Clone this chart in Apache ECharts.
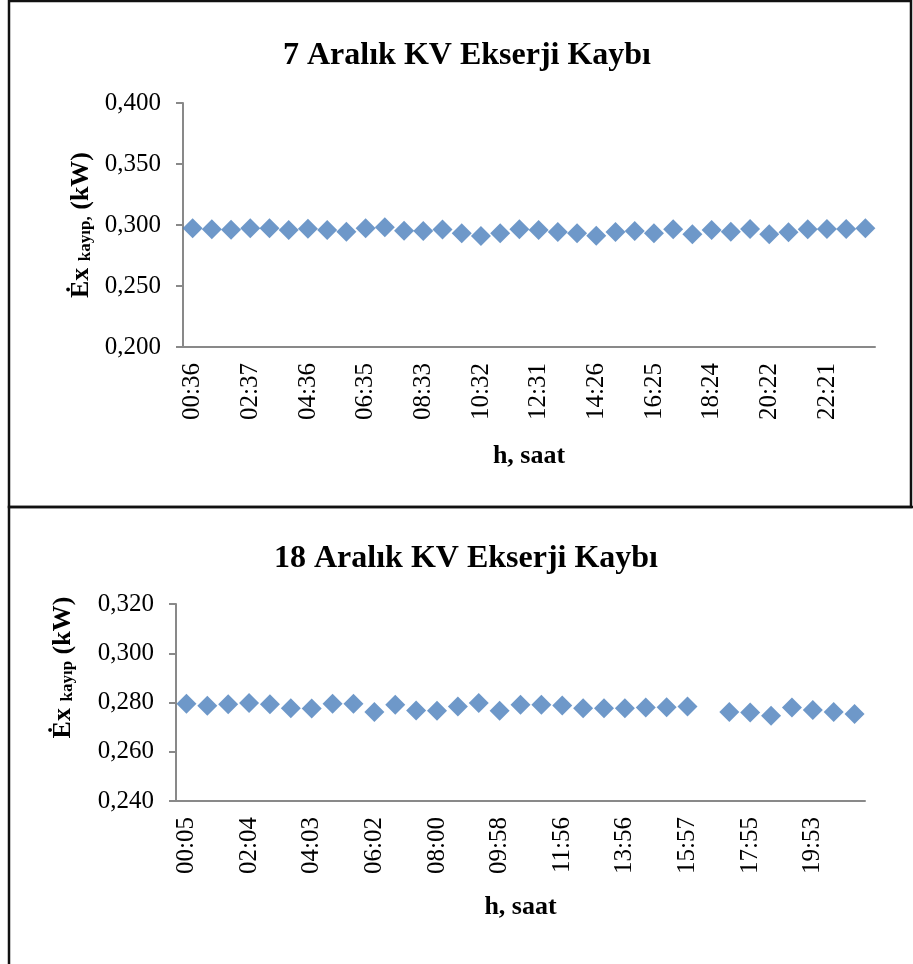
<!DOCTYPE html>
<html>
<head>
<meta charset="utf-8">
<title>KV Ekserji Kaybı</title>
<script src="https://cdn.jsdelivr.net/npm/echarts@6.0.0/dist/echarts.min.js"></script>
<style>
  html, body { margin: 0; padding: 0; background: #fff; }
  #chart { width: 913px; height: 964px; }
</style>
</head>
<body>
<div id="chart"></div>
<script>
// 7 Aralık: measurement times (about every 40 min) and exergy loss, kW
const times7 = [
  '00:36','01:16','01:57','02:37','03:17','03:56','04:36','05:16','05:55',
  '06:35','07:14','07:54','08:33','09:13','09:52','10:32','11:12','11:51',
  '12:31','13:09','13:48','14:26','15:06','15:45','16:25','17:05','17:44',
  '18:24','19:03','19:43','20:22','21:02','21:41','22:21','23:01','23:40'
];
const loss7 = [
  0.2973, 0.2965, 0.2961, 0.2973, 0.2973, 0.2959, 0.2970, 0.2959, 0.2945,
  0.2973, 0.2981, 0.2953, 0.2951, 0.2963, 0.2932, 0.2910, 0.2932, 0.2966,
  0.2959, 0.2943, 0.2932, 0.2912, 0.2943, 0.2951, 0.2932, 0.2965, 0.2924,
  0.2959, 0.2945, 0.2967, 0.2924, 0.2940, 0.2965, 0.2967, 0.2967, 0.2973
];

// 18 Aralık: measurement times and exergy loss, kW (one reading missing)
const times18 = [
  '00:05','00:45','01:24','02:04','02:44','03:23','04:03','04:43','05:22',
  '06:02','06:41','07:21','08:00','08:39','09:19','09:58','10:37','11:17',
  '11:56','12:36','13:16','13:56','14:36','15:17','15:57','16:36','17:16',
  '17:55','18:34','19:14','19:53','20:33','21:12'
];
const loss18 = [
  0.2795, 0.2787, 0.2793, 0.2798, 0.2793, 0.2777, 0.2776, 0.2795, 0.2795,
  0.2761, 0.2791, 0.2768, 0.2766, 0.2784, 0.2798, 0.2766, 0.2791, 0.2791,
  0.2788, 0.2777, 0.2777, 0.2777, 0.2780, 0.2781, 0.2784, null,   0.2761,
  0.2759, 0.2746, 0.2780, 0.2770, 0.2761, 0.2753
];

const title7 = '7 Aralık KV Ekserji Kaybı';
const title18 = '18 Aralık KV Ekserji Kaybı';
const xName = 'h, saat';

const SERIF = '"Liberation Serif", "Times New Roman", serif';
const AXIS_GRAY = '#898989';
const MARK_BLUE = '#4a7ebb';

const fmt = v => v.toFixed(3).replace('.', ',');

function xAxisFor(gridIndex, cats, gap) {
  return {
    type: 'category',
    gridIndex: gridIndex,
    data: cats,
    boundaryGap: true,
    axisLine: { show: true, lineStyle: { color: AXIS_GRAY, width: 2 } },
    axisTick: { show: false },
    splitLine: { show: false },
    axisLabel: {
      interval: 2,
      rotate: 90,
      margin: 16,
      fontFamily: SERIF,
      fontSize: 25,
      color: '#000'
    },
    name: xName,
    nameLocation: 'middle',
    nameGap: gap,
    nameTextStyle: { fontFamily: SERIF, fontSize: 26, fontWeight: 'bold', color: '#000' }
  };
}

function yAxisFor(gridIndex, min, max, step, name, gap, shift) {
  return {
    type: 'value',
    gridIndex: gridIndex,
    min: min,
    max: max,
    interval: step,
    axisLine: { show: true, lineStyle: { color: AXIS_GRAY, width: 2 } },
    axisTick: { show: true, inside: false, length: 7, lineStyle: { color: AXIS_GRAY, width: 2 } },
    splitLine: { show: false },
    axisLabel: {
      margin: 22,
      formatter: fmt,
      fontFamily: SERIF,
      fontSize: 25,
      color: '#000'
    },
    name: name,
    nameLocation: 'middle',
    nameRotate: 90,
    nameGap: gap,
    nameTextStyle: {
      fontFamily: SERIF,
      color: '#000',
      padding: [0, 0, 0, shift],
      rich: {
        b: { fontFamily: SERIF, fontSize: 26, fontWeight: 'bold', color: '#000', lineHeight: 30, verticalAlign: 'bottom' },
        s: { fontFamily: SERIF, fontSize: 17, fontWeight: 'bold', color: '#000', lineHeight: 30, verticalAlign: 'bottom' }
      }
    }
  };
}

const chart = echarts.init(document.getElementById('chart'), null, { renderer: 'canvas' });

chart.setOption({
  animation: false,
  backgroundColor: '#fff',
  grid: [
    { left: 183, right: 38, top: 103, bottom: 617, outerBoundsMode: 'none' },
    { left: 176, right: 48, top: 604, bottom: 163, outerBoundsMode: 'none' }
  ],
  xAxis: [
    xAxisFor(0, times7, 96),
    xAxisFor(1, times18, 93)
  ],
  yAxis: [
    yAxisFor(0, 0.2, 0.4, 0.05, '{b|Ėx }{s|kayıp,}{b| (kW)}', 88, 0),
    yAxisFor(1, 0.24, 0.32, 0.02, '{b|Ėx }{s|kayıp}{b| (kW)}', 100, 70)
  ],
  series: [
    {
      type: 'scatter',
      xAxisIndex: 0, yAxisIndex: 0,
      data: loss7,
      symbol: 'diamond',
      symbolSize: 20,
      itemStyle: { color: MARK_BLUE },
      emphasis: { disabled: true }
    },
    {
      type: 'scatter',
      xAxisIndex: 1, yAxisIndex: 1,
      data: loss18,
      symbol: 'diamond',
      symbolSize: 20,
      itemStyle: { color: MARK_BLUE },
      emphasis: { disabled: true }
    }
  ],
  graphic: [
    // frame of the upper chart
    { type: 'rect', shape: { x: 9, y: 1, width: 902, height: 506 },
      style: { fill: 'none', stroke: '#111', lineWidth: 2.5 }, silent: true },
    // frame of the lower chart (continues past the page edge)
    { type: 'rect', shape: { x: 9, y: 507, width: 940, height: 500 },
      style: { fill: 'none', stroke: '#111', lineWidth: 2.5 }, silent: true },
    { type: 'text', x: 467, y: 56, silent: true,
      style: { text: title7, fontFamily: SERIF, fontSize: 32, fontWeight: 'bold', fill: '#000',
               align: 'center', verticalAlign: 'middle' } },
    { type: 'text', x: 466, y: 559, silent: true,
      style: { text: title18, fontFamily: SERIF, fontSize: 32, fontWeight: 'bold', fill: '#000',
               align: 'center', verticalAlign: 'middle' } }
  ]
});
</script>
</body>
</html>
